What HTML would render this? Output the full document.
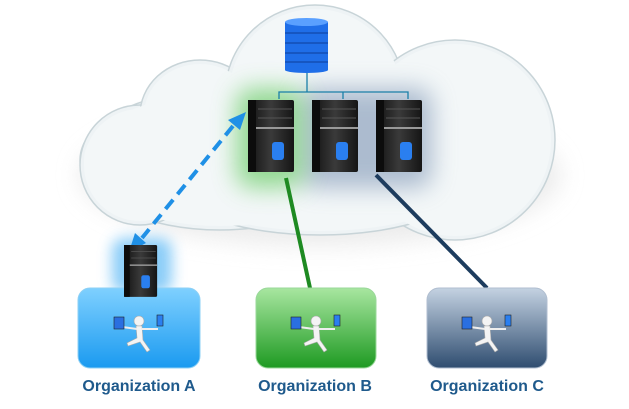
<!DOCTYPE html>
<html><head><style>
body{margin:0;background:#fff;width:629px;height:404px;overflow:hidden;font-family:"Liberation Sans",sans-serif}
</style></head><body>
<svg width="629" height="404" viewBox="0 0 629 404" xmlns="http://www.w3.org/2000/svg">
<defs>
<filter id="b6" x="-50%" y="-50%" width="200%" height="200%"><feGaussianBlur stdDeviation="7"/></filter>
<filter id="b10" x="-50%" y="-50%" width="200%" height="200%"><feGaussianBlur stdDeviation="12"/></filter>
<linearGradient id="ga" x1="0" y1="0" x2="0" y2="1"><stop offset="0" stop-color="#7fd0ff"/><stop offset="1" stop-color="#1a9af0"/></linearGradient>
<linearGradient id="gb" x1="0" y1="0" x2="0" y2="1"><stop offset="0" stop-color="#a8e6a0"/><stop offset="1" stop-color="#1e9a22"/></linearGradient>
<linearGradient id="gc" x1="0" y1="0" x2="0" y2="1"><stop offset="0" stop-color="#c4d2e2"/><stop offset="1" stop-color="#2f4d70"/></linearGradient>
<linearGradient id="srv" x1="0" y1="0" x2="1" y2="0"><stop offset="0" stop-color="#111"/><stop offset="0.5" stop-color="#3a3a3a"/><stop offset="1" stop-color="#151515"/></linearGradient>
<g id="server">
<rect x="0" y="0" width="46" height="72" rx="2" fill="url(#srv)"/>
<rect x="0" y="0" width="8" height="72" fill="#0c0c0c"/>
<line x1="10" y1="9" x2="44" y2="9" stroke="#555"/>
<line x1="10" y1="18" x2="44" y2="18" stroke="#555"/>
<rect x="8" y="27" width="38" height="2" fill="#999"/>
<rect x="24" y="42" width="12" height="18" rx="3" fill="#2a7ff0"/>
</g>
</defs>
<rect width="629" height="404" fill="#fff"/>
<g filter="url(#b10)" fill="#e2e2e2" opacity="0.7">
<ellipse cx="320" cy="175" rx="240" ry="70"/>
</g>
<g fill="#eef3f5" stroke="#c8d4d8" stroke-width="1.5">
<ellipse cx="220" cy="160" rx="140" ry="70"/>
<ellipse cx="140" cy="165" rx="60" ry="60"/>
<ellipse cx="200" cy="115" rx="60" ry="55"/>
<ellipse cx="315" cy="95" rx="90" ry="90"/>
<ellipse cx="455" cy="140" rx="100" ry="100"/>
<ellipse cx="320" cy="180" rx="150" ry="55"/>
</g>
<g fill="#f3f7f8">
<ellipse cx="220" cy="160" rx="136" ry="66"/>
<ellipse cx="140" cy="165" rx="56" ry="56"/>
<ellipse cx="200" cy="115" rx="56" ry="51"/>
<ellipse cx="315" cy="95" rx="86" ry="86"/>
<ellipse cx="455" cy="140" rx="96" ry="96"/>
<ellipse cx="320" cy="180" rx="146" ry="51"/>
</g>
<rect x="300" y="88" width="132" height="100" rx="15" fill="#7d94b4" opacity="0.6" filter="url(#b10)"/>
<rect x="236" y="88" width="68" height="100" rx="15" fill="#72cf70" opacity="0.75" filter="url(#b10)"/>
<rect x="112" y="238" width="60" height="55" rx="12" fill="#5ab8f5" opacity="0.7" filter="url(#b6)"/>
<g>
<rect x="285" y="22" width="43" height="48" fill="#1f6ee8"/>
<ellipse cx="306.5" cy="70" rx="21.5" ry="3" fill="#1f6ee8"/>
<ellipse cx="306.5" cy="22" rx="21.5" ry="4" fill="#5aa0ff"/>
<g stroke="#0c3f9a" stroke-width="1"><line x1="285" y1="33" x2="328" y2="33"/><line x1="285" y1="43" x2="328" y2="43"/><line x1="285" y1="53" x2="328" y2="53"/><line x1="285" y1="62" x2="328" y2="62"/></g>
</g>
<g stroke="#1a7fa8" stroke-width="1.3" fill="none">
<line x1="307" y1="73" x2="307" y2="92"/>
<polyline points="279,99 279,92 408,92 408,99"/>
<line x1="343" y1="92" x2="343" y2="99"/>
</g>
<use href="#server" x="248" y="100"/>
<use href="#server" x="312" y="100"/>
<use href="#server" x="376" y="100"/>
<line x1="286" y1="178" x2="310" y2="288" stroke="#1e8a22" stroke-width="4"/>
<line x1="376" y1="175" x2="487" y2="288" stroke="#1d3c5e" stroke-width="4"/>
<line x1="233" y1="126" x2="142" y2="238" stroke="#1f90e6" stroke-width="4" stroke-dasharray="12,7"/>
<polygon points="246,112 228,120 240,130" fill="#1f90e6"/>
<polygon points="129,252 146,243 135,233" fill="#1f90e6"/>
<rect x="78" y="288" width="122" height="80" rx="12" fill="url(#ga)" stroke="#8dd0f5"/>
<rect x="256" y="288" width="120" height="80" rx="12" fill="url(#gb)" stroke="#9ad89a"/>
<rect x="427" y="288" width="120" height="80" rx="12" fill="url(#gc)" stroke="#b0bed0"/>
<g transform="translate(124,245) scale(0.72)"><use href="#server"/></g>
<g id="fig" fill="#f4f4f4" stroke="#aaa" stroke-width="0.6">
<circle cx="139" cy="321" r="5"/>
<path d="M136 326 L142 326 L143 340 L150 350 L147 352 L140 342 L128 346 L127 343 L137 338 Z"/>
<line x1="137" y1="329" x2="122" y2="327" stroke="#eee" stroke-width="2"/>
<line x1="142" y1="329" x2="158" y2="329" stroke="#eee" stroke-width="2"/>
<rect x="114" y="317" width="10" height="12" fill="#2a6fe0" stroke="#222"/>
<rect x="157" y="315" width="6" height="11" fill="#2a7ff0" stroke="#222"/>
</g>
<use href="#fig" x="177"/>
<use href="#fig" x="348"/>
<g font-weight="bold" font-size="16" fill="#1f5a8c" text-anchor="middle">
<text x="139" y="391">Organization A</text>
<text x="315" y="391">Organization B</text>
<text x="487" y="391">Organization C</text>
</g>
</svg>
</body></html>
